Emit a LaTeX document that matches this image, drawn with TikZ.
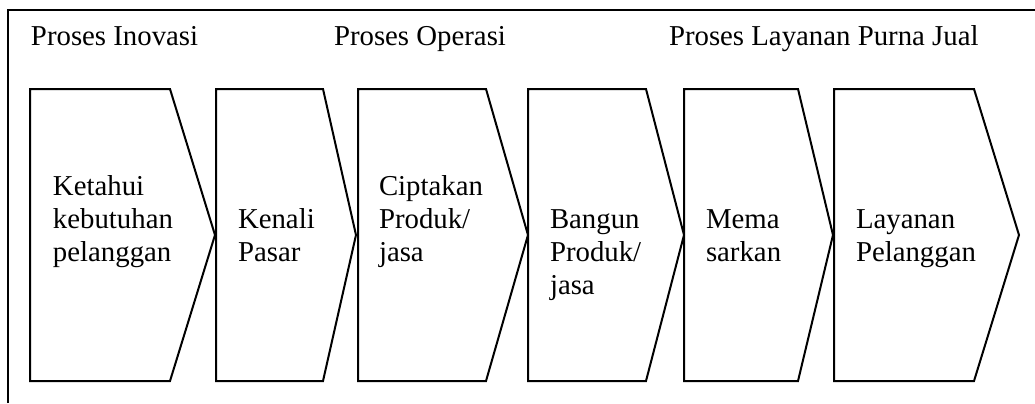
\documentclass[tikz,border=0pt]{standalone}
\usepackage{fontspec}
\setmainfont{Liberation Serif}

\begin{document}
\begin{tikzpicture}[x=0.5pt,y=-0.5pt,line width=1pt]
    \tikzstyle{stage}=[draw=black,line join=miter]
    \tikzstyle{stagetext}=[anchor=base west,inner sep=0pt,align=left,
        font=\fontsize{14.4}{16.5}\selectfont]
    \tikzstyle{head}=[stagetext]

    \useasboundingbox (0,0) rectangle (1035,403);

    % frame, open to the right and below
    \draw (8,403) -- (8,10) -- (1035,10);

    % Headers over the stages
    \node[head] (inovasi) at (30,45) {Proses Inovasi};
    \node[head] (operasi) at (333,45) {Proses Operasi};
    \node[head] (purna) at (668,45) {Proses Layanan Purna Jual};

    % Draw the stages: left edge / top right corner / tip
    \foreach \name/\l/\r/\t in {s1/30/170/215, s2/216/323/356, s3/358/486/528,
                                s4/528/646/684, s5/684/798/833, s6/834/974/1019}
        \draw[stage] (\l,89) -- (\r,89) -- (\t,235) -- (\r,381) -- (\l,381) -- cycle;

    % Text in the stages (base anchor sits on the last line)
    \node[stagetext] (ketahui) at (52,261) {Ketahui\\kebutuhan\\pelanggan};
    \node[stagetext] (kenali) at (237,261) {Kenali\\Pasar};
    \node[stagetext] (ciptakan) at (378,261) {Ciptakan\\Produk/\\jasa};
    \node[stagetext] (bangun) at (549,294) {Bangun\\Produk/\\jasa};
    \node[stagetext] (memasarkan) at (705,261) {Mema\\sarkan};
    \node[stagetext] (layanan) at (855,261) {Layanan\\Pelanggan};
\end{tikzpicture}
\end{document}
